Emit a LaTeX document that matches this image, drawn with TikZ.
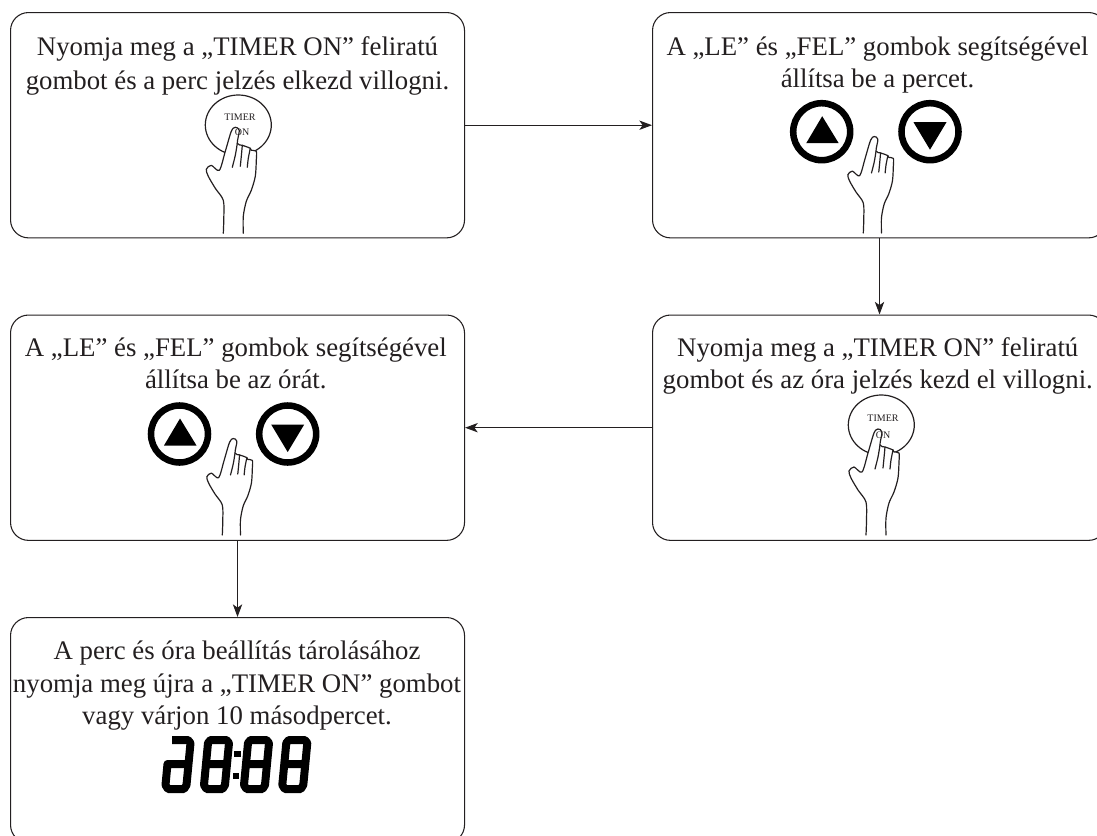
\documentclass[tikz,border=0pt]{standalone}
\usepackage{fontspec}
\setmainfont{Liberation Serif}
\usetikzlibrary{arrows.meta}
\definecolor{ink}{HTML}{231F20}
\tikzset{
  x=0.75pt,y=-0.75pt,
  stepbox/.style={draw=ink,line width=0.8pt,rounded corners=13.5pt,minimum width=340.5pt,minimum height=169pt,inner sep=0pt,anchor=north west},
  steptext/.style={align=center,font=\fontsize{20.1pt}{24pt}\selectfont,text=ink,inner sep=0pt,anchor=north},
  flow/.style={draw=ink,line width=0.8pt,-{Stealth[length=9.5pt,width=7pt,inset=2.5pt]}},
  btnlabel/.style={font=\fontsize{7.5pt}{8pt}\selectfont,text=ink,inner sep=0pt},
  handline/.style={draw=ink,line width=0.9pt,line join=round,line cap=round},
  hand/.pic={
    \path[handline,fill=white] plot[smooth,tension=0.5] coordinates {(0,0) (0.5,-15) (0,-33) (-8,-45) (-15,-57) (-17,-64) (-12,-68) (-4,-63) (2,-82) (8,-102) (12,-106) (16,-103) (14,-90) (19,-88) (22,-87) (27,-85) (28,-83) (33,-82) (33,-73) (32,-57) (28,-43) (23,-32) (20,-17) (20,0)};
    \path[handline] plot[smooth,tension=0.5] coordinates {(14,-90) (12,-78) (9,-66)};
    \path[handline] plot[smooth,tension=0.5] coordinates {(19,-88) (18,-77) (17,-67)};
    \path[handline] plot[smooth,tension=0.5] coordinates {(27,-85) (25,-75) (24,-66)};
  },
  upbtn/.pic={
    \draw[black,line width=4.9pt] (0,0) circle [radius=28.5];
    \fill[black] (0.5,-15.5) -- (-15.5,11.5) -- (17,11.5) -- cycle;
  },
  downbtn/.pic={
    \draw[black,line width=4.9pt] (0,0) circle [radius=28.5];
    \fill[black] (-16.5,-9.5) -- (16.5,-9.5) -- (0,18) -- cycle;
  },
  segfull/.pic={
    \draw[black,line width=6pt,line join=round] (2.5,0) -- (18.5,0) -- (21,-4) -- (25,-46) -- (22.5,-49) -- (6.5,-49) -- (4,-46) -- (0,-4) -- cycle (2,-25) -- (23,-25);
  },
  segfirst/.pic={
    \draw[black,line width=6pt,line join=round] (6.5,-49) -- (22.5,-49) -- (25,-46) -- (21,-4) -- (18.5,0) -- (2.5,0) -- (0,-4) -- (2,-25) -- (23,-25);
  }
}
\begin{document}
\begin{tikzpicture}
\useasboundingbox (0,0) rectangle (1097,836);
\clip (0,0) rectangle (1097,836);
% boxes
\node[stepbox] (b1) at (10,12) {};
\node[stepbox] (b2) at (652,12) {};
\node[stepbox] (b3) at (10,314.5) {};
\node[stepbox] (b4) at (652,314.5) {};
\node[stepbox] (b5) at (10,617) {};
% connectors
\draw[flow] (b1.east) -- (b2.west);
\draw[flow] (b2.south) -- (b4.north);
\draw[flow] (b4.west) -- (b3.east);
\draw[flow] (b3.south) -- (b5.north);
% texts
\node[steptext,font=\fontsize{20.1pt}{25.7pt}\selectfont] (t1) at (237.5,36) {Nyomja meg a „TIMER ON” feliratú\\gombot és a perc jelzés elkezd villogni.};
\node[steptext] (t2) at (877.5,36.3) {A „LE” és „FEL” gombok segítségével\\állítsa be a percet.};
\node[steptext] (t3) at (235.8,337.7) {A „LE” és „FEL” gombok segítségével\\állítsa be az órát.};
\node[steptext] (t4) at (877.8,337) {Nyomja meg a „TIMER ON” feliratú\\gombot és az óra jelzés kezd el villogni.};
\node[steptext,font=\fontsize{20.1pt}{24.4pt}\selectfont] (t5) at (237,641) {A perc és óra beállítás tárolásához\\nyomja meg újra a „TIMER ON” gombot\\vagy várjon 10 másodpercet.};
% box 1 graphic
\draw[ink,line width=0.9pt] (238.3,125) ellipse [x radius=33,y radius=30];
\pic at (223.3,233.3) {hand};
\node[btnlabel] (l1a) at (240,117) {TIMER};
\node[btnlabel] (l1b) at (242,132) {ON};
% box 4 graphic
\draw[ink,line width=0.9pt] (881.3,425) ellipse [x radius=33,y radius=30];
\pic at (866,535) {hand};
\node[btnlabel] (l4a) at (883,418) {TIMER};
\node[btnlabel] (l4b) at (883,435) {ON};
% box 2 graphic
\pic at (821.7,131.7) {upbtn};
\pic at (930,131.7) {downbtn};
\pic[scale=0.91] at (863.3,233) {hand};
% box 3 graphic
\pic at (179.5,434) {upbtn};
\pic at (287.7,434) {downbtn};
\pic[scale=0.91] at (222.3,535) {hand};
% display
\pic at (165.5,789) {segfirst};
\pic at (204,789) {segfull};
\pic at (244,789) {segfull};
\pic at (282.3,789) {segfull};
\fill[black] (234,750.7) rectangle ++(6.5,6.5);
\fill[black] (232.8,772.7) rectangle ++(6.5,6.5);
\end{tikzpicture}
\end{document}
